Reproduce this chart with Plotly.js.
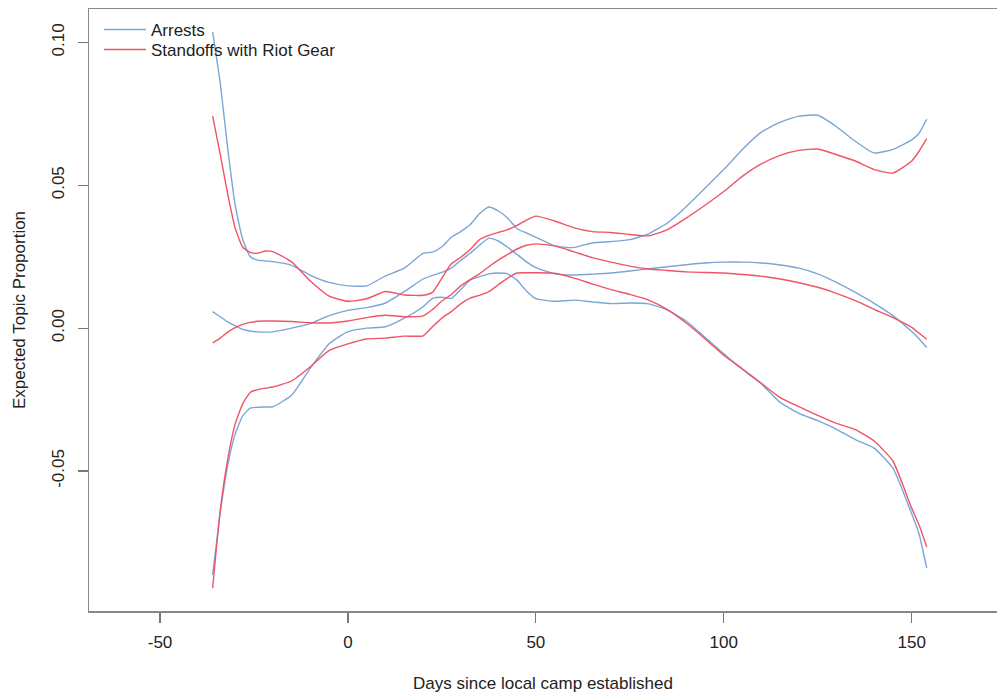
<!DOCTYPE html>
<html>
<head>
<meta charset="utf-8">
<script src="https://cdn.plot.ly/plotly-3.0.1.min.js"></script>
<style>
  html, body { margin: 0; padding: 0; background: #fff; }
  #chart { width: 997px; height: 696px; }
</style>
</head>
<body>
<div id="chart"></div>
<script>
// Days since the local camp was established (shared x grid)
const days = [-36, -34, -32, -30, -28, -26, -24, -22, -20, -15, -10, -5, 0, 5, 10, 15, 20,
  22.5, 25, 27.5, 30, 32.5, 35, 37.5, 40, 42.5, 45, 47.5, 50,
  55, 60, 65, 70, 75, 80, 85, 90, 95, 100, 105, 110, 115, 120, 125, 130, 135, 140, 145, 150, 152, 154];

// Topic "Arrests": expected proportion with upper / lower bounds
const arrestsUpper = [0.1037, 0.086, 0.063, 0.043, 0.031, 0.025, 0.0238, 0.0235, 0.0233, 0.022, 0.0185, 0.016, 0.0148, 0.0148, 0.0183, 0.021, 0.0262,
  0.0266, 0.0285, 0.0318, 0.0338, 0.0362, 0.040, 0.0424, 0.041, 0.0385, 0.0348, 0.0333, 0.0318,
  0.0288, 0.0282, 0.0298, 0.0303, 0.031, 0.033, 0.0368, 0.0425, 0.049, 0.0555, 0.0626, 0.0686, 0.0721, 0.0742, 0.0745, 0.0705, 0.0654, 0.0613, 0.0626, 0.0659, 0.0683, 0.0731];
const arrestsMean = [0.0058, 0.004, 0.0022, 0.0008, -0.0004, -0.001, -0.0013, -0.0014, -0.0013, 0.0, 0.0016, 0.0044, 0.0062, 0.0072, 0.0088, 0.0128, 0.0172,
  0.0185, 0.0195, 0.021, 0.0237, 0.0262, 0.029, 0.0315, 0.0305, 0.0283, 0.0258, 0.0232, 0.0212,
  0.019, 0.0186, 0.0189, 0.0193, 0.02, 0.0208, 0.0215, 0.0222, 0.0228, 0.0231, 0.0231, 0.0228, 0.0221, 0.021, 0.019, 0.016, 0.0125, 0.0087, 0.0044, -0.0012, -0.0038, -0.0068];
const arrestsLower = [-0.0864, -0.065, -0.048, -0.037, -0.0307, -0.028, -0.0277, -0.0276, -0.0275, -0.0235, -0.014, -0.0055, -0.0012, 0.0, 0.0005, 0.0035, 0.0075,
  0.0104, 0.0108, 0.0104, 0.0135, 0.0168, 0.018, 0.019, 0.0193, 0.019, 0.0168, 0.013, 0.0103,
  0.0094, 0.0098, 0.0092, 0.0086, 0.0088, 0.0085, 0.0063, 0.0025, -0.0032, -0.009, -0.0145, -0.0195, -0.026, -0.0298, -0.0324, -0.0354, -0.039, -0.042, -0.049, -0.065, -0.0722, -0.084];

// Topic "Standoffs with Riot Gear": expected proportion with upper / lower bounds
const standoffsUpper = [0.0742, 0.061, 0.047, 0.035, 0.0283, 0.0265, 0.0262, 0.027, 0.0268, 0.0232, 0.0165, 0.0112, 0.0094, 0.0103, 0.0128, 0.0116, 0.0115,
  0.0125, 0.0175, 0.0225, 0.0248, 0.0275, 0.031, 0.0325, 0.0335, 0.0345, 0.036, 0.0378, 0.0392,
  0.0375, 0.0352, 0.0338, 0.0335, 0.0328, 0.0323, 0.0345, 0.0385, 0.043, 0.0478, 0.0532, 0.0575, 0.0605, 0.0622, 0.0627, 0.0607, 0.0585, 0.0555, 0.0543, 0.0585, 0.062, 0.0663];
const standoffsMean = [-0.0052, -0.0035, -0.0014, 0.0002, 0.0013, 0.002, 0.0024, 0.0025, 0.0025, 0.0023, 0.0019, 0.0018, 0.0025, 0.0037, 0.0045, 0.004, 0.0043,
  0.0065, 0.0095, 0.0118, 0.0148, 0.017, 0.019, 0.0215, 0.0238, 0.0258, 0.0277, 0.029, 0.0295,
  0.0288, 0.0268, 0.0247, 0.0231, 0.0217, 0.0207, 0.0202, 0.0197, 0.0195, 0.0193, 0.0188, 0.0182, 0.0172, 0.0159, 0.0143, 0.0122, 0.0096, 0.0066, 0.0037, 0.0003, -0.0018, -0.0039];
const standoffsLower = [-0.091, -0.064, -0.046, -0.0335, -0.0265, -0.0225, -0.0215, -0.021, -0.0206, -0.0185, -0.0135, -0.0078, -0.0055, -0.0038, -0.0035, -0.0028, -0.0027,
  0.0005, 0.0035, 0.0058, 0.0085, 0.0105, 0.0115, 0.0128, 0.0152, 0.0175, 0.0193, 0.0194, 0.0194,
  0.0192, 0.0176, 0.0155, 0.0135, 0.0118, 0.0098, 0.0065, 0.0018, -0.0037, -0.0095, -0.0143, -0.0193, -0.0243, -0.0275, -0.0305, -0.0333, -0.0355, -0.0395, -0.0465, -0.063, -0.069, -0.0766];

// Axis ticks
const xTickVals = [-50, 0, 50, 100, 150];
const xTickText = ['-50', '0', '50', '100', '150'];
const yTickVals = [-0.05, 0, 0.05, 0.10];
const yTickText = ['-0.05', '0.00', '0.05', '0.10'];

const blue = '#7aa6d6';
const red = '#ef5467';

function curve(values, name, color, legendId, inLegend) {
  return {
    x: days, y: values, type: 'scatter', mode: 'lines', name: name,
    legend: legendId, showlegend: inLegend, hoverinfo: 'x+y',
    line: { color: color, width: 1.4, shape: 'spline', smoothing: 0.5 }
  };
}

const traces = [
  curve(arrestsMean, 'Arrests', blue, 'legend', true),
  curve(arrestsUpper, 'Arrests', blue, 'legend', false),
  curve(arrestsLower, 'Arrests', blue, 'legend', false),
  curve(standoffsMean, 'Standoffs with Riot Gear', red, 'legend2', true),
  curve(standoffsUpper, 'Standoffs with Riot Gear', red, 'legend2', false),
  curve(standoffsLower, 'Standoffs with Riot Gear', red, 'legend2', false)
];

// One key row per topic, stacked in the top-left corner
function keyRow(yCenter) {
  return {
    x: 0.011, y: yCenter, xanchor: 'left', yanchor: 'middle',
    bgcolor: 'rgba(0,0,0,0)', borderwidth: 0,
    font: { size: 17, color: '#222' }, itemwidth: 42
  };
}

const layout = {
  width: 997, height: 696,
  margin: { l: 89, r: 0, t: 9, b: 85 },
  paper_bgcolor: '#ffffff', plot_bgcolor: '#ffffff',
  font: { family: 'Liberation Sans, Arial, sans-serif', size: 17, color: '#222' },
  showlegend: true,
  legend: keyRow(0.9651),
  legend2: keyRow(0.9319),
  xaxis: {
    range: [-68.9, 172.7],
    tickvals: xTickVals, ticktext: xTickText,
    ticks: 'outside', ticklen: 10, tickwidth: 1.2, tickcolor: '#777',
    ticklabelstandoff: 5,
    showgrid: false, zeroline: false,
    showline: true, mirror: true, linecolor: '#888', linewidth: 1.5,
    title: { text: 'Days since local camp established', standoff: 26, font: { size: 17 } }
  },
  yaxis: {
    range: [-0.0990, 0.1117],
    tickvals: yTickVals, ticktext: yTickText, tickangle: -90,
    ticks: 'outside', ticklen: 10, tickwidth: 1.2, tickcolor: '#777',
    ticklabelstandoff: 7,
    showgrid: false, zeroline: false,
    showline: true, mirror: false, linecolor: '#888', linewidth: 1.5,
    title: { text: 'Expected Topic Proportion', standoff: 19, font: { size: 17 } }
  }
};

Plotly.newPlot('chart', traces, layout, { displayModeBar: false, staticPlot: true });
</script>
</body>
</html>
